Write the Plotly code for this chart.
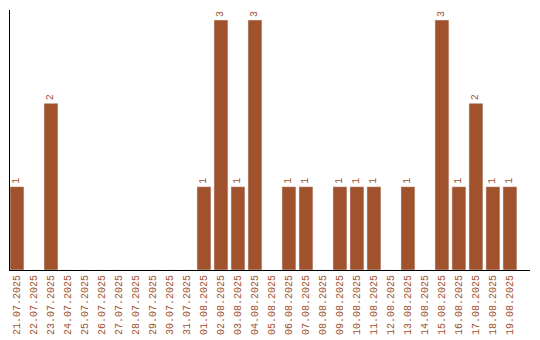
import plotly.graph_objects as go

dates = ["21.07.2025", "22.07.2025", "23.07.2025", "24.07.2025", "25.07.2025",
         "26.07.2025", "27.07.2025", "28.07.2025", "29.07.2025", "30.07.2025",
         "31.07.2025", "01.08.2025", "02.08.2025", "03.08.2025", "04.08.2025",
         "05.08.2025", "06.08.2025", "07.08.2025", "08.08.2025", "09.08.2025",
         "10.08.2025", "11.08.2025", "12.08.2025", "13.08.2025", "14.08.2025",
         "15.08.2025", "16.08.2025", "17.08.2025", "18.08.2025", "19.08.2025"]
counts = [1, 0, 2, 0, 0, 0, 0, 0, 0, 0,
          0, 1, 3, 1, 3, 0, 1, 1, 0, 1,
          1, 1, 0, 1, 0, 3, 1, 2, 1, 1]

color = "#a0522d"
labels = [str(v) if v > 0 else "" for v in counts]
fam = "Liberation Mono"

fig = go.Figure(go.Bar(
    x=list(range(len(dates))), y=counts, marker_color=color,
    text=labels, textposition="outside", textangle=-90,
    textfont=dict(family=fam, size=10, color=color),
    cliponaxis=False,
))
fig.update_layout(
    width=540, height=340, margin=dict(l=10, r=10, t=10, b=70),
    plot_bgcolor="white", paper_bgcolor="white", bargap=0.18,
    showlegend=False,
    font=dict(family=fam, size=10, color=color),
)
fig.update_xaxes(
    tickmode="array", tickvals=list(range(len(dates))), ticktext=dates,
    tickangle=-90, range=[-0.41, 30.18], showline=True, linecolor="black",
    linewidth=1, showgrid=False, zeroline=False, ticks="", automargin=False,
    tickfont=dict(family=fam, size=10, color=color),
)
fig.update_yaxes(
    range=[0, 3.12], showline=True, linecolor="black", linewidth=1,
    showgrid=False, zeroline=False, showticklabels=False, ticks="",
    automargin=False,
)
fig.write_html("out.html")
